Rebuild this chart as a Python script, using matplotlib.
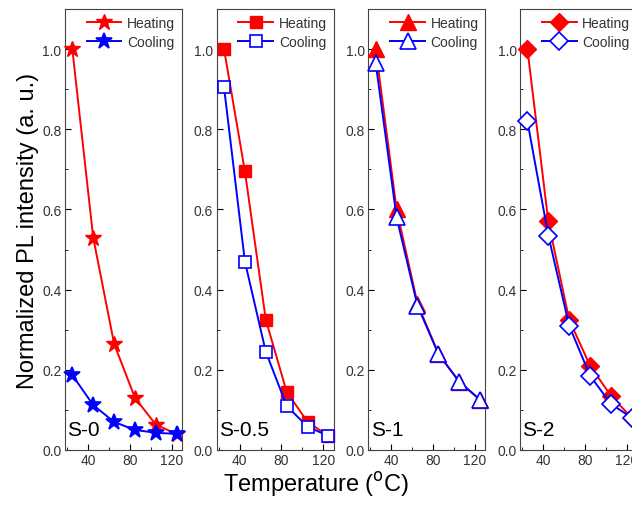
import matplotlib.pyplot as plt
from matplotlib.ticker import MultipleLocator

plt.rcParams['font.family'] = ['Liberation Sans', 'DejaVu Sans']

temps = [25, 45, 65, 85, 105, 125]
samples = ["S-0", "S-0.5", "S-1", "S-2"]

heat_s0 = [1.0, 0.53, 0.265, 0.13, 0.063, 0.04]
cool_s0 = [0.187, 0.112, 0.07, 0.05, 0.043, 0.04]
heat_s05 = [1.0, 0.695, 0.325, 0.145, 0.07, 0.035]
cool_s05 = [0.905, 0.47, 0.245, 0.11, 0.058, 0.035]
heat_s1 = [1.0, 0.6, 0.365, 0.24, 0.17, 0.125]
cool_s1 = [0.965, 0.58, 0.36, 0.24, 0.17, 0.125]
heat_s2 = [1.0, 0.57, 0.325, 0.21, 0.135, 0.08]
cool_s2 = [0.82, 0.535, 0.31, 0.185, 0.115, 0.08]

heating = [heat_s0, heat_s05, heat_s1, heat_s2]
cooling = [cool_s0, cool_s05, cool_s1, cool_s2]
markers = ["*", "s", "^", "D"]
msizes = [12, 8, 11, 9.5]
hollow = [False, True, True, True]

fig = plt.figure(figsize=(6.32, 5.06), dpi=100)
for i in range(4):
    left = (65 + i * 151.7) / 632
    ax = fig.add_axes([left, 55 / 506, 117 / 632, 441 / 506])
    ax.plot(temps, heating[i], color="red", marker=markers[i], ms=msizes[i],
            lw=1.4, label="Heating", clip_on=False, zorder=3)
    ax.plot(temps, cooling[i], color="blue", marker=markers[i], ms=msizes[i],
            lw=1.4, label="Cooling", clip_on=False, zorder=4,
            mfc="white" if hollow[i] else "blue", mew=1.2)
    ax.set_xlim(18, 130)
    ax.set_ylim(0, 1.1)
    ax.xaxis.set_major_locator(MultipleLocator(40))
    ax.xaxis.set_minor_locator(MultipleLocator(20))
    ax.yaxis.set_major_locator(MultipleLocator(0.2))
    ax.yaxis.set_minor_locator(MultipleLocator(0.1))
    ax.set_yticks([0, 0.2, 0.4, 0.6, 0.8, 1.0])
    ax.tick_params(which="both", direction="in", labelsize=10, pad=2.5,
                   labelcolor="#333333", top=False, right=False)
    ax.tick_params(which="major", length=4)
    ax.tick_params(which="minor", length=2.5)
    for sp in ax.spines.values():
        sp.set_color("#444444")
    ax.text(0.02, 0.025, samples[i], transform=ax.transAxes, fontsize=15,
            ha="left", va="bottom")
    ax.legend(loc="upper right", frameon=False, fontsize=10,
              handlelength=2.5, borderaxespad=0.05, labelspacing=0.35,
              handletextpad=0.4, borderpad=0.45, labelcolor="#333333")
    if i == 0:
        ax.set_ylabel("Normalized PL intensity (a. u.)", fontsize=17, labelpad=2)

fig.text(0.5, 21 / 506, "Temperature ($^{\\mathrm{o}}$C)", fontsize=17,
         ha="center", va="center")
fig.savefig("out.png", dpi=100)
